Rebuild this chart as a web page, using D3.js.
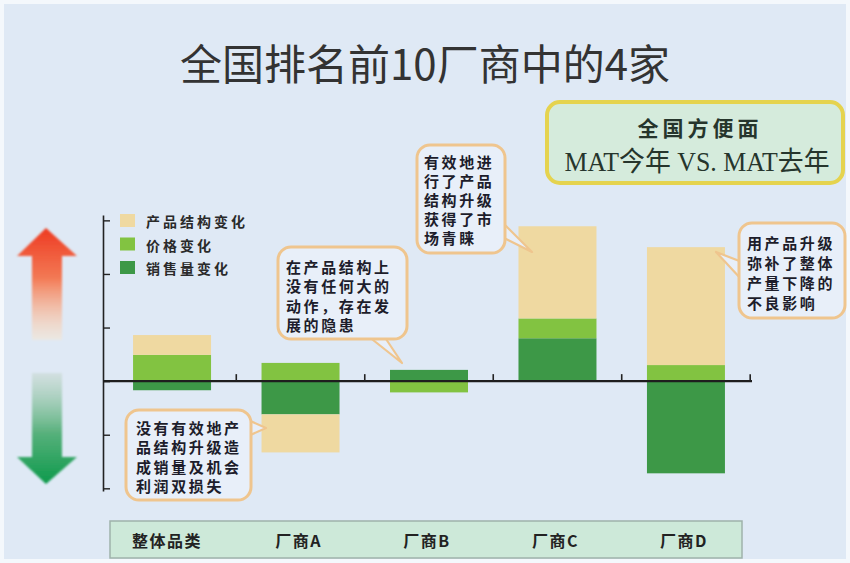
<!DOCTYPE html>
<html>
<head>
<meta charset="utf-8">
<script src="https://cdn.jsdelivr.net/npm/d3@7"></script>
<style>
  html, body { margin: 0; padding: 0; background: #ffffff; }
  svg { display: block; }
  .cjk { font-family: "Noto Sans CJK SC", "Noto Sans", sans-serif; }
</style>
</head>
<body>
<svg id="chart" width="850" height="563"></svg>
<script>
// Categories along the bottom band
const categories = ["整体品类", "厂商A", "厂商B", "厂商C", "厂商D"];
// Series (change components, MAT this year vs last year)
const volumeChange    = [-1.7, -6.2,  2.1,  8.0, -17.2];
const priceChange     = [ 4.9,  3.4, -2.1,  3.7,   3.0];
const structureChange = [ 3.7, -7.1,  0.0, 17.2,  22.0];
const seriesKeys   = ["volume", "price", "structure"];
const seriesLabels = { structure: "产品结构变化", price: "价格变化", volume: "销售量变化" };
const legendOrder  = ["structure", "price", "volume"];
const yTicks = [-20, -10, 0, 10, 20, 30];

const titleText = "全国排名前10厂商中的4家";
const boxLines  = ["全国方便面", "MAT今年 VS. MAT去年"];
const notes = [
  { lines: ["没有有效地产", "品结构升级造", "成销量及机会", "利润双损失"] },
  { lines: ["在产品结构上", "没有任何大的", "动作，存在发", "展的隐患"] },
  { lines: ["有效地进", "行了产品", "结构升级", "获得了市", "场青睐"] },
  { lines: ["用产品升级", "弥补了整体", "产量下降的", "不良影响"] }
];

const colors = { structure: "#efd9a1", price: "#82c341", volume: "#3d9847" };

const rows = categories.map((c, i) => ({
  cat: c, volume: volumeChange[i], price: priceChange[i], structure: structureChange[i]
}));

const svg = d3.select("#chart");
const W = 850, H = 563;

// background panel
svg.append("rect").attr("x", 0).attr("y", 0).attr("width", W).attr("height", H).attr("fill", "#f4f8fc");
svg.append("rect").attr("x", 4).attr("y", 4).attr("width", W - 8).attr("height", H - 8).attr("fill", "#dfe9f5");

const defs = svg.append("defs");
const gUp = defs.append("linearGradient").attr("id", "gUp").attr("x1", 0).attr("y1", 0).attr("x2", 0).attr("y2", 1);
gUp.append("stop").attr("offset", "0%").attr("stop-color", "#ee3b22");
gUp.append("stop").attr("offset", "45%").attr("stop-color", "#f37a55");
gUp.append("stop").attr("offset", "100%").attr("stop-color", "#fde6c8").attr("stop-opacity", 0.4);
const gDown = defs.append("linearGradient").attr("id", "gDown").attr("x1", 0).attr("y1", 0).attr("x2", 0).attr("y2", 1);
gDown.append("stop").attr("offset", "0%").attr("stop-color", "#c9d9d2").attr("stop-opacity", 0.6);
gDown.append("stop").attr("offset", "55%").attr("stop-color", "#55b07a");
gDown.append("stop").attr("offset", "100%").attr("stop-color", "#0e9a4c");
defs.append("filter").attr("id", "soft").append("feGaussianBlur").attr("stdDeviation", 0.8);

// title
svg.append("text").attr("class", "cjk")
  .attr("x", 425).attr("y", 80).attr("text-anchor", "middle")
  .attr("font-size", 42).attr("fill", "#333")
  .text(titleText);

// scales
const x = d3.scaleBand().domain(categories).range([108, 750]).paddingInner(0.393).paddingOuter(0.195);
const y = d3.scaleLinear().domain([-20.5, 31]).range([491, 215]);

// up / down arrows on the left
const ax = 46;
svg.append("path").attr("fill", "url(#gUp)").attr("filter", "url(#soft)")
  .attr("d", `M${ax},228 L${ax + 31},256 L${ax + 16},256 L${ax + 16},340 L${ax - 14},340 L${ax - 14},256 L${ax - 29},256 Z`);
svg.append("path").attr("fill", "url(#gDown)").attr("filter", "url(#soft)")
  .attr("d", `M${ax - 14},373 L${ax + 16},373 L${ax + 16},457 L${ax + 31},457 L${ax},484 L${ax - 29},457 L${ax - 14},457 Z`);

// stacked bars (diverging around zero)
const stack = d3.stack().keys(seriesKeys).offset(d3.stackOffsetDiverging);
const layers = stack(rows);
svg.append("g").selectAll("g").data(layers).join("g")
  .attr("fill", d => colors[d.key])
  .selectAll("rect").data(d => d).join("rect")
  .attr("x", d => x(d.data.cat))
  .attr("width", x.bandwidth())
  .attr("y", d => y(Math.max(d[0], d[1])))
  .attr("height", d => Math.abs(y(d[0]) - y(d[1])));

// y axis (ticks pointing inward)
const yAxis = d3.axisRight(y).tickValues(yTicks).tickSize(7).tickSizeOuter(0).tickFormat("");
const gy = svg.append("g").attr("transform", "translate(103,0)").call(yAxis);
gy.select(".domain").attr("stroke", "#222").attr("stroke-width", 1.6);
gy.selectAll(".tick line").attr("stroke", "#222").attr("stroke-width", 1.4);

// zero line with category separators
const y0 = y(0);
svg.append("line").attr("x1", 103).attr("x2", 752).attr("y1", y0).attr("y2", y0)
  .attr("stroke", "#1e1e1e").attr("stroke-width", 2.2);
const step = x.step();
svg.append("g").selectAll("line").data(categories).join("line")
  .attr("x1", d => x(d) + x.bandwidth() / 2 + step / 2)
  .attr("x2", d => x(d) + x.bandwidth() / 2 + step / 2)
  .attr("y1", y0).attr("y2", y0 - 7)
  .attr("stroke", "#222").attr("stroke-width", 1.6);

// legend
const lg = svg.append("g").attr("class", "cjk");
legendOrder.forEach((k, i) => {
  const ly = 221 + i * 23.5;
  lg.append("rect").attr("x", 120).attr("y", ly - 7).attr("width", 15).attr("height", 13).attr("fill", colors[k]);
  lg.append("text").attr("x", 146).attr("y", ly).attr("dominant-baseline", "central")
    .attr("font-size", 14).attr("font-weight", 700).attr("letter-spacing", 3).attr("fill", "#2a2a2a")
    .text(seriesLabels[k]);
});

// callout boxes with pointer tails
function callout(bx, by, bw, bh, tail, lines, tx, ty0, lh) {
  const g = svg.append("g");
  g.append("path").attr("d", tail).attr("fill", "#e8eff9").attr("stroke", "#efc58e").attr("stroke-width", 2.2)
    .attr("stroke-linejoin", "round");
  g.append("rect").attr("x", bx).attr("y", by).attr("width", bw).attr("height", bh)
    .attr("rx", 13).attr("fill", "#e8eff9").attr("stroke", "#efc58e").attr("stroke-width", 3);
  g.selectAll("text").data(lines).join("text").attr("class", "cjk")
    .attr("x", tx).attr("y", (d, i) => ty0 + i * lh).attr("dominant-baseline", "central")
    .attr("font-size", 15).attr("font-weight", 700).attr("letter-spacing", 2.6).attr("fill", "#1d1d2b")
    .text(d => d);
  return g;
}
callout(126, 410, 125, 90, "M248,420 L266,428 L248,436 Z", notes[0].lines, 136, 427, 19.5);
callout(278, 247, 129, 92, "M368,336 L402,363 L384,336 Z", notes[1].lines, 286, 266, 19.5);
callout(417, 145, 88, 108, "M500,220 L532,252 L500,236 Z", notes[2].lines, 424, 161, 19);
callout(739, 223, 106, 95, "M742,262 L716,252 L742,280 Z", notes[3].lines, 747, 242, 20);

// top-right info box
svg.append("rect").attr("x", 547).attr("y", 102).attr("width", 296).attr("height", 81).attr("rx", 13)
  .attr("fill", "#d5ebdc").attr("stroke", "#e5d34e").attr("stroke-width", 4);
svg.append("text").attr("class", "cjk").attr("x", 700).attr("y", 127).attr("dominant-baseline", "central")
  .attr("text-anchor", "middle").attr("font-size", 21).attr("font-weight", 700).attr("letter-spacing", 4)
  .attr("fill", "#26352c").text(boxLines[0]);
svg.append("text").attr("x", 697).attr("y", 162).attr("dominant-baseline", "central")
  .attr("text-anchor", "middle").attr("font-size", 27)
  .attr("font-family", "'Liberation Serif', 'DejaVu Serif', 'Noto Sans CJK SC', serif")
  .attr("textLength", 265).attr("lengthAdjust", "spacingAndGlyphs")
  .attr("fill", "#26352c").text(boxLines[1]);

// bottom category band
svg.append("rect").attr("x", 110).attr("y", 521).attr("width", 632).attr("height", 37)
  .attr("fill", "#cde9d9").attr("stroke", "#9fb2aa").attr("stroke-width", 1.5);
svg.append("g").selectAll("text").data(categories).join("text").attr("class", "cjk")
  .attr("x", (d, i) => x(d) + x.bandwidth() / 2 - (i === 0 ? 5 : 2))
  .attr("y", 540).attr("dominant-baseline", "central").attr("text-anchor", "middle")
  .attr("font-size", 16).attr("font-weight", 700).attr("letter-spacing", 1.5).attr("fill", "#222")
  .text(d => d);
</script>
</body>
</html>
